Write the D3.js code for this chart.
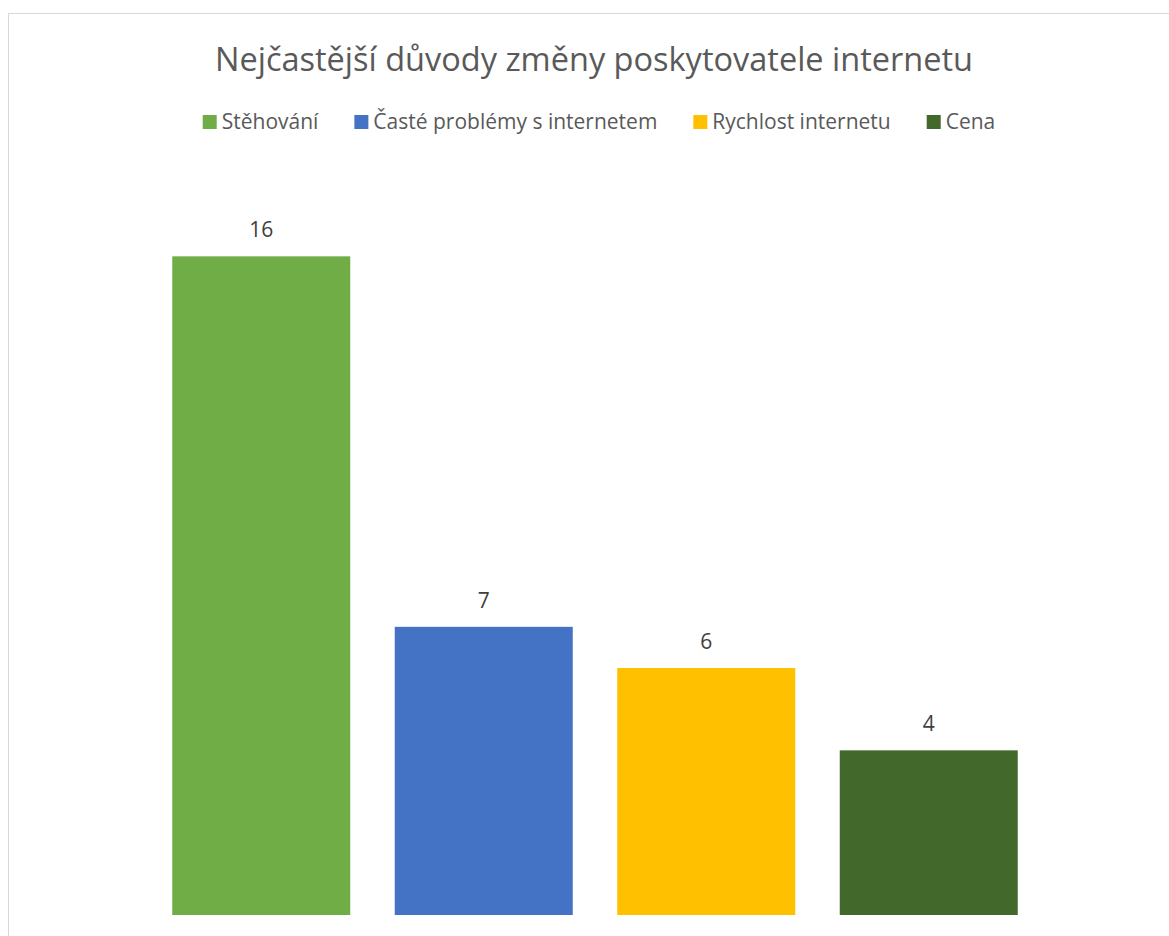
<!DOCTYPE html>
<html>
<head>
<meta charset="utf-8">
<script src="https://cdn.jsdelivr.net/npm/d3@7"></script>
<style>
  body { margin: 0; background: #fff; }
  text { font-family: "Open Sans", sans-serif; }
</style>
</head>
<body>
<div id="chart"></div>
<script>
const categories = ["Stěhování", "Časté problémy s internetem", "Rychlost internetu", "Cena"];
const values = [16, 7, 6, 4];
const colors = ["#70AD47", "#4472C4", "#FFC000", "#43682B"];
const title = "Nejčastější důvody změny poskytovatele internetu";

const width = 1169, height = 936;
const svg = d3.select("#chart").append("svg")
    .attr("width", width)
    .attr("height", height);

// chart frame (right/bottom edges are off-screen)
svg.append("rect")
    .attr("x", 8.5).attr("y", 13.5)
    .attr("width", 1200).attr("height", 1000)
    .attr("fill", "#fff")
    .attr("stroke", "#d9d9d9");

svg.append("text")
    .attr("x", 594).attr("y", 71)
    .attr("text-anchor", "middle")
    .attr("font-size", "32.5px")
    .attr("fill", "#595959")
    .text(title);

let x = d3.scaleBand()
    .domain(categories)
    .range([150, 1040])
    .paddingInner(0.2)
    .paddingOuter(0.1);

let y = d3.scaleLinear()
    .domain([0, 18])
    .range([915, 174]);

svg.selectAll("rect.bar")
    .data(values)
    .enter().append("rect")
    .attr("class", "bar")
    .attr("x", (d, i) => x(categories[i]))
    .attr("width", x.bandwidth())
    .attr("y", d => y(d))
    .attr("height", d => y(0) - y(d))
    .attr("fill", (d, i) => colors[i]);

svg.selectAll("text.lbl")
    .data(values)
    .enter().append("text")
    .attr("class", "lbl")
    .attr("x", (d, i) => x(categories[i]) + x.bandwidth() / 2)
    .attr("y", d => y(d) - 19)
    .attr("text-anchor", "middle")
    .attr("font-size", "21px")
    .attr("fill", "#404040")
    .text(d => d);

// legend, centred
let legend = svg.append("g");
let items = legend.selectAll("g")
    .data(categories)
    .enter().append("g");
items.append("rect")
    .attr("width", 14).attr("height", 14)
    .attr("y", -14)
    .attr("fill", (d, i) => colors[i]);
items.append("text")
    .attr("x", 19)
    .attr("font-size", "21px")
    .attr("fill", "#595959")
    .text(d => d);

let pos = 0;
items.each(function() {
    let w = d3.select(this).select("text").node().getComputedTextLength();
    d3.select(this).attr("transform", "translate(" + pos + ",0)");
    pos += 19 + w + 36;
});
pos -= 36;
legend.attr("transform", "translate(" + (599 - pos / 2) + ",129)");
</script>
</body>
</html>
